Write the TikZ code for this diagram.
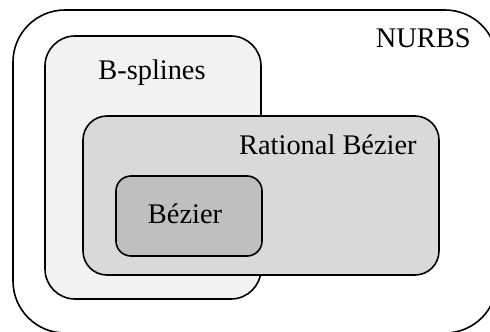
\documentclass[tikz,border=0pt]{standalone}
\usepackage{fontspec}
\setmainfont{Liberation Serif}
\usepackage{xcolor}
\definecolor{bsplgray}{HTML}{F2F2F2}
\definecolor{ratgray}{HTML}{D9D9D9}
\definecolor{bezgray}{HTML}{BFBFBF}
\tikzset{
  setbox/.style={draw=black, line width=0.8pt},
  setlbl/.style={inner sep=0pt, font=\fontsize{14.2}{17}\selectfont}
}
\begin{document}
\begin{tikzpicture}[x=0.5pt, y=-0.5pt]
\useasboundingbox (0,0) rectangle (490,331);
\clip (0,0) rectangle (490,331);

% Nested sets
\draw[setbox, fill=white, rounded corners=26pt]   (13,10)  rectangle (497,333);
\draw[setbox, fill=bsplgray, rounded corners=15pt] (45,36)  rectangle (261,299);
\draw[setbox, fill=ratgray, rounded corners=12pt]  (83,116) rectangle (439,275);
\draw[setbox, fill=bezgray, rounded corners=7.5pt] (116,176) rectangle (262,256);

% Labels
\node[setlbl, anchor=base east] (nurbs) at (471,48)  {NURBS};
\node[setlbl, anchor=base]      (bspl)  at (152,80)  {B-splines};
\node[setlbl, anchor=base east] (rat)   at (417,154) {Rational Bézier};
\node[setlbl, anchor=base]      (bez)   at (185,223) {Bézier};

\end{tikzpicture}
\end{document}
